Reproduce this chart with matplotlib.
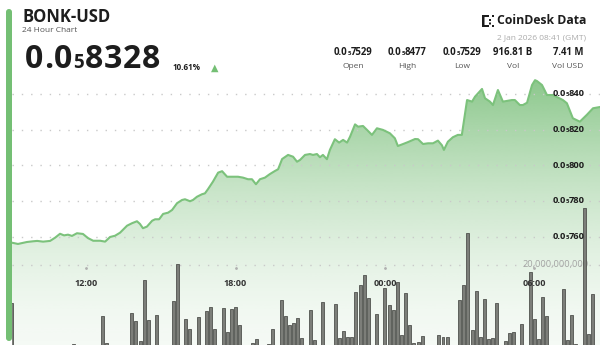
import matplotlib

matplotlib.use("Agg")
import matplotlib.pyplot as plt
import matplotlib.transforms as mtransforms
import numpy as np
from matplotlib.colors import to_rgb
from matplotlib.offsetbox import AnnotationBbox, HPacker, TextArea
from matplotlib.patches import FancyBboxPatch

W, H = 600, 345
FONT = ["Open Sans", "DejaVu Sans"]
SUB = "₅"  # marks the small "5" in 0.0₅xxxx (five zeros after the point)

# ---------------------------------------------------------------- data
# hours since 00:00 on 1 Jan (values above 24 are on 2 Jan); prices in 1e-8 USD
price_hours = [
    9.02, 9.26, 9.62, 9.87, 10.03, 10.27, 10.55, 10.75, 10.95, 11.11, 11.27,
    11.43, 11.63, 11.87, 12.07, 12.28, 12.56, 12.76, 12.96, 13.16, 13.36, 13.64,
    13.84, 14.04, 14.16, 14.28, 14.44, 14.65, 14.77, 14.93, 15.09, 15.29, 15.45,
    15.65, 15.85, 15.97, 16.17, 16.29, 16.45, 16.65, 16.77, 16.89, 17.09, 17.30,
    17.46, 17.66, 17.90, 18.10, 18.30, 18.50, 18.66, 18.82, 18.98, 19.18, 19.38,
    19.58, 19.71, 19.87, 20.11, 20.31, 20.47, 20.59, 20.79, 20.99, 21.11, 21.27,
    21.39, 21.51, 21.67, 21.79, 21.99, 22.16, 22.32, 22.48, 22.60, 22.80, 22.92,
    23.12, 23.28, 23.48, 23.68, 23.92, 24.20, 24.40, 24.52, 24.73, 24.93, 25.21,
    25.33, 25.53, 25.73, 25.93, 26.13, 26.29, 26.37, 26.53, 26.73, 26.93, 27.09,
    27.30, 27.50, 27.62, 27.90, 28.02, 28.22, 28.34, 28.54, 28.74, 29.10, 29.22,
    29.42, 29.54, 29.71, 29.91, 30.03, 30.11, 30.31, 30.51, 30.75, 31.15, 31.31,
    31.55, 31.83, 32.11, 32.36, 32.68,
]
price_values = [
    756.8, 756.1, 757.2, 757.6, 757.8, 757.4, 757.8, 759.6, 761.8, 760.9, 761.3,
    760.6, 762.1, 761.7, 759.4, 757.9, 757.9, 757.4, 760.0, 760.7, 762.4, 766.3,
    767.7, 768.8, 767.3, 764.9, 765.8, 769.1, 769.9, 769.9, 772.9, 773.6, 775.1,
    778.9, 780.7, 781.1, 780.0, 780.7, 782.5, 783.9, 784.4, 786.7, 790.9, 796.0,
    796.8, 793.7, 793.7, 793.7, 793.2, 792.3, 792.3, 789.5, 792.3, 793.2, 795.2,
    796.9, 797.9, 803.6, 805.9, 804.9, 802.1, 803.1, 805.9, 806.4, 805.9, 806.4,
    804.6, 805.9, 803.5, 808.7, 814.7, 812.8, 814.3, 812.8, 816.1, 823.0, 821.7,
    822.1, 819.9, 817.1, 820.8, 819.9, 818.0, 815.2, 810.9, 812.0, 813.1, 814.8,
    814.7, 812.0, 812.4, 812.4, 813.9, 811.3, 808.7, 813.3, 815.8, 817.1, 817.1,
    836.6, 835.7, 838.5, 842.8, 837.6, 835.7, 833.8, 842.2, 835.7, 836.6, 836.6,
    833.8, 833.8, 835.1, 845.0, 847.7, 847.2, 845.0, 839.4, 839.4, 836.6, 834.8,
    826.4, 824.5, 828.3, 832.0, 832.8,
]

# 10-minute volume bars: slot index from the first bar (08:50) and volume in billions
vol_first_bar = 8 + 50 / 60
vol_slots = [
    1, 16, 23, 24, 30, 31, 32, 33, 34, 36, 40, 41, 43, 44, 46, 48, 49, 50, 52,
    53, 54, 55, 56, 59, 60, 63, 64, 66, 67, 68, 69, 70, 71, 73, 74, 76, 79, 80,
    81, 82, 83, 84, 85, 86, 87, 89, 91, 92, 93, 94, 95, 96, 97, 98, 99, 100,
    104, 105, 106, 109, 110, 111, 112, 113, 114, 115, 116, 117, 118, 120, 121,
    122, 124, 126, 127, 128, 129, 130, 134, 135, 136, 137, 139, 140, 141,
]
vol_billions = [
    12.1, 3.4, 9.3, 3.5, 9.9, 8.2, 3.9, 16.8, 8.4, 9.4, 12.5, 20.2, 8.6, 6.5,
    9.1, 10.3, 11.2, 6.5, 10.9, 5.8, 10.7, 11.1, 7.4, 3.5, 4.4, 3.4, 6.5, 12.6,
    9.3, 7.4, 7.7, 8.8, 4.6, 10.5, 4.2, 12.2, 11.7, 4.7, 6.1, 4.9, 4.9, 14.4,
    15.8, 17.8, 13.0, 9.6, 15.1, 11.6, 10.5, 16.5, 5.3, 14.2, 7.4, 3.5, 3.7,
    5.1, 5.3, 4.9, 4.8, 12.6, 15.8, 26.7, 6.3, 14.6, 4.9, 12.8, 4.4, 4.7, 11.9,
    4.0, 5.6, 5.8, 7.5, 18.6, 8.6, 4.4, 13.3, 9.3, 14.9, 4.2, 9.4, 3.4, 31.9,
    5.5, 14.0,
]

price_ticks = [760, 780, 800, 820, 840]
vol_tick = 20
time_ticks = [12, 18, 24, 30]
time_labels = ["12:00", "18:00", "00:00", "06:00"]

symbol = "BONK-USD"
last_price = "0.0₅8328"
change_pct = "10.61%"
stamp = "2 Jan 2026 08:41 (GMT)"
stat_values = ["0.0₅7529", "0.0₅8477", "0.0₅7529", "916.81 B", "7.41 M"]
stat_labels = ["Open", "High", "Low", "Vol", "Vol USD"]

# ---------------------------------------------------------------- style
GREEN = "#74bf74"
LINE = "#7cc27c"
DARK = "#1d1d1d"
GRID = dict(color="#c9c9c9", lw=1.0, ls=(0, (1, 5.7)))

plt.rcParams["font.family"] = FONT


def fx(x):
    return x / W


def fy(y):
    return 1 - y / H


def number_box(s, size, sub_size, color=DARK, weight="bold", spacing=0.0):
    """Pack '0.0₅8328' as head / small 5 / tail on a shared baseline.

    With spacing > 0 every glyph gets its own box so the digits can be
    tracked out like the big headline price."""
    props = dict(size=size, weight=weight, color=color, family=FONT)
    if SUB not in s:
        return TextArea(s, textprops=props)
    head, tail = s.split(SUB)
    if spacing:
        pieces = [(c, props) for c in head]
        pieces.append(("5", {**props, "size": sub_size}))
        pieces += [(c, props) for c in tail]
    else:
        pieces = [(head, props), ("5", {**props, "size": sub_size}),
                  (tail, props)]
    parts = [TextArea(txt, textprops=p) for txt, p in pieces]
    return HPacker(children=parts, align="baseline", pad=0, sep=spacing)


def place(box, xy, coords, align, zorder=5, target=None):
    ab = AnnotationBbox(box, xy, xycoords=coords, box_alignment=align,
                        frameon=False, pad=0, annotation_clip=False)
    ab.set_zorder(zorder)
    (target or fig).add_artist(ab)
    return ab


def px_rect(x0, y0, x1, y1, color, rounding=0.0):
    # pixel box with the origin at the top left
    patch = FancyBboxPatch((x0, H - y1), x1 - x0, y1 - y0,
                           boxstyle=f"round,pad=0,rounding_size={rounding}",
                           transform=mtransforms.IdentityTransform(),
                           facecolor=color, edgecolor="none")
    fig.add_artist(patch)


fig = plt.figure(figsize=(W / 100, H / 100), dpi=100)
fig.patch.set_facecolor("white")

rect = [fx(12), fy(360), (600 - 12) / W, (360 - 75) / H]
ax_p = fig.add_axes(rect, zorder=1)
ax_v = fig.add_axes(rect, zorder=2, sharex=ax_p)
for ax in (ax_p, ax_v):
    ax.set_axis_off()

# --- price area with a fixed vertical gradient -----------------------------
y_lo, y_hi = 691.2, 850.6
frac = np.linspace(1, 0, 400)
t = np.clip((frac - 0.053) / (1 - 0.053), 0, 1)
rgba = np.zeros((400, 1, 4))
rgba[..., :3] = to_rgb("#6cb86c")
rgba[..., 3] = (0.07 + 0.73 * t ** 1.6)[:, None]
im = ax_p.imshow(rgba, extent=(0, 1, 0, 1), transform=ax_p.transAxes,
                 aspect="auto", interpolation="bilinear", zorder=1)
fill = ax_p.fill_between(price_hours, price_values, y_lo,
                         facecolor="none", edgecolor="none")
im.set_clip_path(fill.get_paths()[0], transform=ax_p.transData)
ax_p.plot(price_hours, price_values, color=LINE, lw=1.5, zorder=4,
          solid_joinstyle="round")
for tick in price_ticks:
    ax_p.axhline(tick, zorder=2, **GRID)
ax_p.set_xlim(9.02, 32.64)
ax_p.set_ylim(y_lo, y_hi)

# --- volume -------------------------------------------------------------
bar_hours = [vol_first_bar + s / 6 for s in vol_slots]
ax_v.axhline(vol_tick, zorder=1, **GRID)
blend_v = mtransforms.blended_transform_factory(ax_v.transAxes, ax_v.transData)
ax_v.text(0.98, vol_tick, f"{vol_tick * 1_000_000_000:,}", transform=blend_v,
          ha="right", va="center", size=6.7, color="#a3a3a3", zorder=2)
ax_v.bar(bar_hours, vol_billions, width=0.12, color="#7c7e79",
         edgecolor="#50524e", linewidth=0.6, zorder=3)
ax_v.set_ylim(0, 60)

xt = ax_v.get_xaxis_transform()
ax_v.plot(time_ticks, [0.323] * len(time_ticks), ls="none", marker="o",
          ms=1.0, color="#b0b0b0", transform=xt, zorder=4)
for h, lab in zip(time_ticks, time_labels):
    ax_v.text(h, 0.27, lab, transform=xt, ha="center", va="center",
              size=6.5, weight="bold", color="#333333", zorder=4)

blend_p = mtransforms.blended_transform_factory(ax_p.transAxes, ax_p.transData)
for tick in price_ticks:
    place(number_box(f"0.0{SUB}{tick}", 6.7, 4.2), (0.9745, tick), blend_p,
          (1, 0.45), target=ax_v)

# --- header -------------------------------------------------------------
fig.text(fx(22), fy(17), symbol, size=12, weight="bold", color=DARK,
         ha="left", va="center")
fig.text(fx(22), fy(31), "24 Hour Chart", size=6, color="#555555",
         ha="left", va="center")
place(number_box(last_price, 23, 13.5, spacing=0.6), (fx(25), fy(61)),
      "figure fraction", (0, 0.45))
fig.text(fx(173), fy(68), change_pct, size=5.8, weight="bold", color=DARK,
         ha="left", va="center")
fig.text(fx(214.5), fy(67.5), "▲", size=7, color=GREEN, ha="center",
         va="center", family=["DejaVu Sans"])

fig.text(fx(586), fy(21), "CoinDesk Data", size=8.8, weight="bold",
         color=DARK, ha="right", va="center")
for box in [(482, 15, 484.5, 27), (482, 15, 489, 17), (482, 25, 489, 27),
            (489, 19, 491, 21), (489, 22.5, 491, 24.5), (492, 15, 494, 17),
            (492, 25, 494, 27)]:
    px_rect(*box, DARK)
fig.text(fx(586), fy(38), stamp, size=6, color="#ababab", ha="right",
         va="center")

stat_x = [353, 407, 462, 513, 568]
for x, val, lab in zip(stat_x, stat_values, stat_labels):
    place(number_box(val, 6.9, 4.3), (fx(x), fy(53)), "figure fraction",
          (0.5, 0.45))
    fig.text(fx(x), fy(66), lab, size=6, color="#555555", ha="center",
             va="center")

# card edge
px_rect(6, 9, 12, 341, GREEN, rounding=3)

fig.savefig("out.png", dpi=100, facecolor="white")
